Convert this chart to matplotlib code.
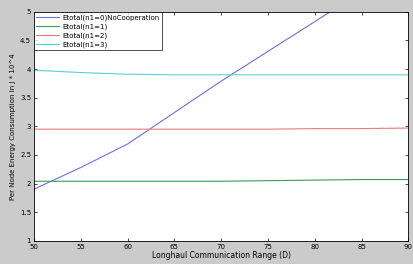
import matplotlib.pyplot as plt
from matplotlib.ticker import FormatStrFormatter

# longhaul range values
x_vals = [50, 55, 60, 65, 70, 75, 80, 85, 90]

e_n0 = [1.90, 2.28, 2.69, 3.24, 3.79, 4.31, 4.83, 5.35, 5.87]
e_n1 = [2.04, 2.04, 2.04, 2.04, 2.04, 2.05, 2.06, 2.07, 2.07]
e_n2 = [2.95, 2.95, 2.95, 2.95, 2.95, 2.95, 2.96, 2.96, 2.97]
e_n3 = [3.98, 3.94, 3.91, 3.90, 3.90, 3.90, 3.90, 3.90, 3.90]

labels = ['Etotal(n1=0)NoCooperation', 'Etotal(n1=1)', 'Etotal(n1=2)', 'Etotal(n1=3)']

fig = plt.figure(figsize=(4.13, 2.64), dpi=100, facecolor='#cbcbcb')
ax = fig.add_axes([0.082, 0.088, 0.907, 0.867])

ax.plot(x_vals, e_n0, color='#6f6fd8', lw=0.8, label=labels[0])
ax.plot(x_vals, e_n1, color='#3c9a5a', lw=0.8, label=labels[1])
ax.plot(x_vals, e_n2, color='#f07878', lw=0.8, label=labels[2])
ax.plot(x_vals, e_n3, color='#5ad2d2', lw=0.8, label=labels[3])

ax.set_xlim(50, 90)
ax.set_ylim(1, 5)
ax.set_xticks(range(50, 91, 5))
ax.set_yticks([1, 1.5, 2, 2.5, 3, 3.5, 4, 4.5, 5])
ax.yaxis.set_major_formatter(FormatStrFormatter('%g'))
ax.tick_params(labelsize=5, length=2, width=0.5, direction='in', top=True, right=True, pad=2)
for s in ax.spines.values():
    s.set_linewidth(0.6)

ax.set_xlabel('Longhaul Communication Range (D)', fontsize=5.5, labelpad=1)
ax.set_ylabel('Per Node Energy Consumption in J * 10^4', fontsize=5, labelpad=3)

leg = ax.legend(loc='upper left', fontsize=5, frameon=True, fancybox=False,
                edgecolor='black', borderaxespad=0, handlelength=3.2,
                handletextpad=0.6, labelspacing=0.35, borderpad=0.35)
leg.get_frame().set_linewidth(0.6)

fig.savefig('out.png', dpi=100, facecolor=fig.get_facecolor())
